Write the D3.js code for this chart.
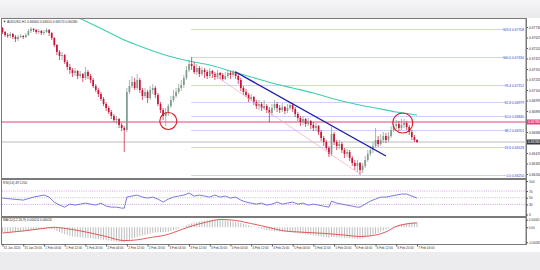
<!DOCTYPE html>
<html>
<head>
<meta charset="utf-8">
<script src="https://d3js.org/d3.v7.min.js"></script>
<style>
  body { margin: 0; background: #fff; }
  svg { display: block; font-family: "Liberation Sans", Arial, sans-serif; }
</style>
</head>
<body>
<svg id="chart" width="540" height="270"></svg>
<script>
// ---- data (H1 bars, 31 Jan 12:00 .. 7 Feb 04:00) ----
const symbolTitle = "AUDUSD,H1  0.66600 0.66610 0.66570 0.66580";
const firstOpen = 0.6772;
const closes = [
  0.6768,0.6765,0.6764,0.6766,0.6763,0.6761,0.6763,0.6764,0.6763,0.6765,
  0.6769,0.6771,0.6770,0.6768,0.6769,0.6767,0.6768,0.6770,0.6767,0.6762,
  0.6755,0.6748,0.6744,0.6745,0.6738,0.6733,0.6730,0.6727,0.6729,0.6724,
  0.6726,0.6722,0.6728,0.6724,0.6720,0.6714,0.6710,0.6706,0.6701,0.6696,
  0.6692,0.6688,0.6684,0.6680,0.6681,0.6675,0.6672,0.6670,0.6708,0.6714,
  0.6718,0.6712,0.6720,0.6710,0.6704,0.6708,0.6702,0.6710,0.6712,0.6705,
  0.6696,0.6690,0.6684,0.6688,0.6694,0.6700,0.6704,0.6708,0.6712,0.6715,
  0.6722,0.6730,0.6736,0.6734,0.6728,0.6732,0.6726,0.6730,0.6728,0.6724,
  0.6729,0.6726,0.6723,0.6727,0.6725,0.6721,0.6724,0.6727,0.6725,0.6728,
  0.6724,0.6720,0.6712,0.6708,0.6705,0.6701,0.6703,0.6698,0.6694,0.6696,
  0.6692,0.6694,0.6690,0.6687,0.6692,0.6696,0.6692,0.6690,0.6693,0.6689,
  0.6692,0.6695,0.6691,0.6686,0.6682,0.6678,0.6681,0.6676,0.6679,0.6675,
  0.6672,0.6674,0.6668,0.6662,0.6658,0.6652,0.6646,0.6666,0.6658,0.6654,
  0.6656,0.6650,0.6646,0.6648,0.6642,0.6637,0.6634,0.6637,0.6630,0.6634,
  0.6640,0.6646,0.6650,0.6654,0.6660,0.6656,0.6660,0.6664,0.6660,0.6664,
  0.6670,0.6674,0.6676,0.6672,0.6675,0.6677,0.6673,0.6668,0.6663,0.6660,
  0.6658
];
const highs = [
  0.6773,0.6769,0.6767,0.6768,0.6767,0.6765,0.6765,0.6766,0.6765,0.6767,
  0.6771,0.6773,0.6772,0.6771,0.6771,0.6770,0.6770,0.6772,0.6771,0.6768,
  0.6763,0.6756,0.6750,0.6748,0.6746,0.6740,0.6736,0.6732,0.6732,0.6730,
  0.6729,0.6727,0.6733,0.6730,0.6726,0.6722,0.6716,0.6712,0.6708,0.6703,
  0.6698,0.6694,0.6690,0.6686,0.6684,0.6682,0.6677,0.6674,0.6712,0.6720,
  0.6724,0.6722,0.6726,0.6722,0.6712,0.6712,0.6710,0.6714,0.6716,0.6714,
  0.6707,0.6698,0.6692,0.6692,0.6696,0.6704,0.6710,0.6712,0.6716,0.6720,
  0.6725,0.6734,0.6740,0.6743,0.6738,0.6736,0.6734,0.6733,0.6732,0.6730,
  0.6732,0.6730,0.6728,0.6730,0.6728,0.6727,0.6728,0.6730,0.6729,0.6730,
  0.6729,0.6726,0.6722,0.6714,0.6711,0.6707,0.6706,0.6704,0.6700,0.6700,
  0.6698,0.6700,0.6696,0.6693,0.6696,0.6700,0.6698,0.6695,0.6697,0.6694,
  0.6696,0.6698,0.6697,0.6693,0.6688,0.6684,0.6684,0.6682,0.6682,0.6680,
  0.6678,0.6677,0.6675,0.6670,0.6664,0.6660,0.6654,0.6673,0.6668,0.6660,
  0.6660,0.6658,0.6652,0.6651,0.6650,0.6644,0.6640,0.6640,0.6638,0.6637,
  0.6644,0.6650,0.6654,0.6658,0.6672,0.6664,0.6666,0.6668,0.6667,0.6668,
  0.6674,0.6678,0.6680,0.6679,0.6681,0.6681,0.6679,0.6675,0.6670,0.6665,
  0.6661
];
const lows = [
  0.6766,0.6763,0.6762,0.6762,0.6761,0.6758,0.6759,0.6762,0.6761,0.6762,
  0.6764,0.6767,0.6768,0.6766,0.6766,0.6765,0.6765,0.6767,0.6764,0.6760,
  0.6753,0.6745,0.6740,0.6740,0.6736,0.6730,0.6726,0.6723,0.6724,0.6721,
  0.6722,0.6718,0.6720,0.6721,0.6717,0.6712,0.6708,0.6703,0.6699,0.6694,
  0.6689,0.6686,0.6681,0.6678,0.6676,0.6672,0.6669,0.6648,0.6668,0.6706,
  0.6712,0.6710,0.6710,0.6707,0.6700,0.6702,0.6697,0.6700,0.6706,0.6702,
  0.6694,0.6687,0.6680,0.6674,0.6684,0.6692,0.6698,0.6702,0.6706,0.6709,
  0.6712,0.6720,0.6728,0.6730,0.6726,0.6725,0.6723,0.6724,0.6722,0.6721,
  0.6722,0.6722,0.6720,0.6721,0.6721,0.6719,0.6720,0.6722,0.6721,0.6723,
  0.6721,0.6716,0.6709,0.6705,0.6703,0.6698,0.6699,0.6695,0.6691,0.6690,
  0.6689,0.6690,0.6687,0.6678,0.6684,0.6690,0.6688,0.6687,0.6688,0.6686,
  0.6687,0.6690,0.6688,0.6683,0.6679,0.6674,0.6675,0.6673,0.6674,0.6671,
  0.6669,0.6669,0.6665,0.6659,0.6654,0.6650,0.6643,0.6644,0.6655,0.6650,
  0.6651,0.6647,0.6642,0.6643,0.6639,0.6634,0.6630,0.6628,0.6625,0.6627,
  0.6632,0.6638,0.6644,0.6647,0.6652,0.6653,0.6654,0.6657,0.6657,0.6658,
  0.6662,0.6668,0.6671,0.6669,0.6670,0.6672,0.6670,0.6665,0.6660,0.6658,
  0.6657
];

// moving average (teal), sampled at bars
const maBars = [24,32,40,48,56,64,72,80,88,96,104,112,120,128,136,144,152,160];
const maValues = [0.6789,0.6779,0.6769,0.6759,0.6751,0.6744,0.6739,0.6735,0.6729,
  0.6723,0.6717,0.6712,0.6707,0.6701,0.6696,0.6692,0.6688,0.6685];

// drawn objects
const fibHigh = { bar: 73, price: 0.6743 };
const fibLow = { bar: 138, price: 0.6625 };
const fibLevels = [0, 23.6, 38.2, 50, 61.8, 76.4, 100, 123.6];
const resistanceLevel = 0.6678;
const trendBars = [90, 148];
const trendValues = [0.6728, 0.6644];
const channelBars = [80, 138];
const channelValues = [0.6728, 0.6626];
const circleBars = [64, 154.5];
const circleValues = [0.6679, 0.6677];
const priceTicks = [0.67730,0.67625,0.67520,0.67415,0.67310,0.67205,0.67100,0.66995,
  0.66890,0.66785,0.66680,0.66575,0.66470,0.66365,0.66260];

// RSI(14), sampled at bars
const rsiBars = [0,4,8,12,16,18,20,22,24,26,28,30,32,34,36,38,40,42,44,46,
  47,48,50,52,54,56,58,60,62,64,66,68,70,72,74,76,78,80,82,84,
  86,88,90,92,94,96,98,100,102,104,106,108,110,112,114,116,118,120,122,124,
  126,127,129,131,133,135,137,138,140,142,144,146,148,150,152,154,156,158,160];
const rsiValues = [49,46,43,52,58,52,37,28,22,31,28,31,34,31,28,34,25,22,22,19,
  19,52,55,58,52,49,52,46,37,46,52,55,58,64,55,58,55,52,58,52,
  55,49,52,43,37,34,31,34,28,31,37,31,34,37,31,34,28,31,28,25,
  22,40,34,31,28,25,22,22,31,40,46,52,52,55,58,61,61,55,49];
const rsiTicks = [100, 70, 50, 30, 0];

// MACD histogram in points (1e-5), one per bar
const macdPts = [
  -28,-27,-26,-26,-25,-25,-24,-23,-22,-20,-18,-16,-14,-12,-10,-9,
  -8,-7,-8,-10,-14,-20,-26,-32,-37,-42,-46,-50,-52,-54,-55,-56,-56,-57,-58,-60,
  -62,-64,-66,-68,-70,-72,-74,-76,-77,-79,-80,-81,-74,-68,-62,-57,-52,-48,-45,-42,
  -38,-34,-30,-28,-27,-27,-28,-27,-24,-20,-16,-12,-7,-2,4,10,
  16,21,25,28,31,34,36,38,40,41,41,40,39,38,37,36,35,33,30,27,23,19,15,11,
  7,3,-1,-5,-9,-12,-15,-18,-20,-21,-22,-23,-24,-25,-26,-27,
  -28,-30,-32,-34,-36,-38,-40,-42,-44,-46,-48,-50,-52,-54,-56,-52,
  -53,-54,-55,-56,-57,-58,-59,-60,-61,-62,-62,-60,-56,-50,-44,-38,
  -36,-30,-24,-18,-12,-6,-1,4,8,12,16,19,22,24,25,25,24
];
const signalBars = [0,8,16,20,24,32,40,47,52,56,64,68,72,80,84,88,96,104,108,116,124,132,138,144,148,152,156,160];
const signalPts = [-31,-20,-6,0,-6,-25,-50,-72,-68,-58,-38,-18,2,32,42,40,20,-5,-18,-27,-33,-42,-50,-42,-25,5,18,24];
const macdTicks = [0.00041, 0, -0.00081];

const timeLabels = ["31 Jan 2020","31 Jan 20:00","1 Feb 04:00","1 Feb 12:00","1 Feb 20:00",
  "2 Feb 04:00","2 Feb 12:00","2 Feb 20:00","3 Feb 04:00","3 Feb 12:00","3 Feb 20:00",
  "4 Feb 04:00","4 Feb 12:00","4 Feb 20:00","5 Feb 04:00","5 Feb 12:00","5 Feb 20:00",
  "6 Feb 04:00","6 Feb 12:00","6 Feb 20:00","7 Feb 04:00"];

// ---- drawing ----
const svg = d3.select("#chart");
const W = 540, axisX = 526;
const FS = 3.3;
const main = { top: 18, bottom: 178 };
const rsiP = { top: 179, bottom: 216 };
const macdP = { top: 217, bottom: 244 };

const x = d3.scaleLinear().domain([0, 160]).range([2.5, 417]);
const y = d3.scaleLinear().domain([0.6625, 0.6743]).range([175, 57]);
const yR = d3.scaleLinear().domain([0, 100]).range([214.5, 181]);
const yM = d3.scaleLinear().domain([-0.00085, 0.0005]).range([243, 218]);

// background bands
const defs = svg.append("defs");
const g1 = defs.append("linearGradient").attr("id", "band").attr("x1", 0).attr("y1", 0).attr("x2", 0).attr("y2", 1);
g1.append("stop").attr("offset", 0).attr("stop-color", "#f6f6f8");
g1.append("stop").attr("offset", 1).attr("stop-color", "#e9e9ec");
svg.append("rect").attr("width", W).attr("height", 18).attr("fill", "url(#band)");
svg.append("rect").attr("y", 252).attr("width", W).attr("height", 18).attr("fill", "#ececee");

defs.append("clipPath").attr("id", "clipMain").append("rect")
  .attr("x", 2).attr("y", main.top + 1).attr("width", axisX - 2).attr("height", main.bottom - main.top - 1);

// panel frames
[main, rsiP, macdP].forEach((p) => {
  svg.append("rect").attr("x", 1.5).attr("y", p.top + 0.5)
    .attr("width", axisX - 1.5).attr("height", p.bottom - p.top)
    .attr("fill", "none").attr("stroke", "#7a7a7a").attr("stroke-width", 1);
});

const mainG = svg.append("g").attr("clip-path", "url(#clipMain)");

// fibonacci levels
const fibX0 = x(fibHigh.bar);
fibLevels.forEach((lv) => {
  const price = fibLow.price + (fibHigh.price - fibLow.price) * lv / 100;
  const yy = Math.round(y(price)) + 0.5;
  mainG.append("line").attr("x1", fibX0).attr("x2", 506).attr("y1", yy).attr("y2", yy)
    .attr("stroke", "#8a8ae6").attr("stroke-width", 0.8).attr("stroke-dasharray", "1,1");
  mainG.append("text").attr("x", 524).attr("y", yy + 1.2).attr("text-anchor", "end")
    .attr("font-size", FS).attr("fill", "#3a3ad0")
    .text(`${lv.toFixed(1)} ${price.toFixed(5)}`);
});

// resistance (pink) and bid (gray) lines
mainG.append("line").attr("x1", 2).attr("x2", axisX).attr("y1", y(resistanceLevel)).attr("y2", y(resistanceLevel))
  .attr("stroke", "#e8407a").attr("stroke-width", 1);
const bid = closes[closes.length - 1];
mainG.append("line").attr("x1", 2).attr("x2", axisX).attr("y1", y(bid)).attr("y2", y(bid))
  .attr("stroke", "#d2d2d2").attr("stroke-width", 1.6);

// moving average
mainG.append("path")
  .datum(maBars.map((b, i) => [b, maValues[i]]))
  .attr("d", d3.line().x((d) => x(d[0])).y((d) => y(d[1])).curve(d3.curveMonotoneX))
  .attr("fill", "none").attr("stroke", "#3fcfb0").attr("stroke-width", 1.1);

// candles
closes.forEach((c, i) => {
  const o = i === 0 ? firstOpen : closes[i - 1];
  const hi = Math.max(highs[i], o, c), lo = Math.min(lows[i], o, c);
  const up = c >= o;
  const col = up ? "#7f9c8c" : "#c8123a";
  mainG.append("line").attr("x1", x(i)).attr("x2", x(i)).attr("y1", y(hi)).attr("y2", y(lo))
    .attr("stroke", col).attr("stroke-width", 0.7);
  const yt = y(Math.max(o, c)), yb = y(Math.min(o, c));
  mainG.append("rect").attr("x", x(i) - 0.85).attr("width", 1.7)
    .attr("y", yt).attr("height", Math.max(0.7, yb - yt)).attr("fill", col);
});

// trend lines
mainG.append("line").attr("x1", x(channelBars[0])).attr("y1", y(channelValues[0]))
  .attr("x2", x(channelBars[1])).attr("y2", y(channelValues[1]))
  .attr("stroke", "#f2a8bc").attr("stroke-width", 0.7);
mainG.append("line").attr("x1", x(trendBars[0])).attr("y1", y(trendValues[0]))
  .attr("x2", x(trendBars[1])).attr("y2", y(trendValues[1]))
  .attr("stroke", "#1e1eaa").attr("stroke-width", 1.4);

// circles
[8.5, 10].forEach((r, k) => {
  mainG.append("circle").attr("cx", x(circleBars[k])).attr("cy", y(circleValues[k])).attr("r", r)
    .attr("fill", "none").attr("stroke", "#d41c24").attr("stroke-width", 1.1);
});

// title
svg.append("path").attr("d", "M3.5,20.8 L5.7,20.8 L4.6,22.5 Z").attr("fill", "#333");
svg.append("text").attr("x", 7).attr("y", 22.8).attr("font-size", FS).attr("fill", "#333").text(symbolTitle);

// price axis
const axisStyle = (g) => {
  g.select(".domain").remove();
  g.selectAll("line").attr("stroke", "#555");
  g.selectAll("text").attr("font-size", FS).attr("fill", "#333").attr("font-family", "Liberation Sans, Arial, sans-serif");
};
svg.append("g").attr("transform", `translate(${axisX},0)`)
  .call(d3.axisRight(y).tickValues(priceTicks).tickFormat(d3.format(".5f")).tickSize(2).tickPadding(1))
  .call(axisStyle);
svg.append("line").attr("x1", axisX + 0.5).attr("x2", axisX + 0.5).attr("y1", main.top).attr("y2", macdP.bottom + 1)
  .attr("stroke", "#7a7a7a");

// price tags
[[resistanceLevel, "#e8407a"], [bid, "#3a3a3a"]].forEach(([p, col]) => {
  svg.append("rect").attr("x", axisX + 1).attr("y", y(p) - 2.5).attr("width", 13).attr("height", 5).attr("fill", col);
  svg.append("text").attr("x", axisX + 2).attr("y", y(p) + 1.2).attr("font-size", FS).attr("fill", "#fff")
    .text(p.toFixed(5));
});

// RSI panel
svg.append("text").attr("x", 3).attr("y", 184).attr("font-size", FS).attr("fill", "#333").text("RSI(14) 49.1250");
[[70, "#c98ad6"], [50, "#b8b8b8"], [30, "#c98ad6"]].forEach(([v, col]) => {
  svg.append("line").attr("x1", 2).attr("x2", axisX).attr("y1", yR(v)).attr("y2", yR(v))
    .attr("stroke", col).attr("stroke-width", 0.8).attr("stroke-dasharray", "1,1.2");
});
svg.append("path")
  .datum(rsiBars.map((b, i) => [b, rsiValues[i]]))
  .attr("d", d3.line().x((d) => x(d[0])).y((d) => yR(d[1])))
  .attr("fill", "none").attr("stroke", "#6c6cd8").attr("stroke-width", 0.9);
svg.append("g").attr("transform", `translate(${axisX},0)`)
  .call(d3.axisRight(yR).tickValues(rsiTicks).tickSize(2).tickPadding(1))
  .call(axisStyle);

// MACD panel
svg.append("text").attr("x", 3).attr("y", 221).attr("font-size", FS).attr("fill", "#333")
  .text("MACD(12,26,9) 0.00024 0.00024");
macdPts.forEach((v, i) => {
  svg.append("line").attr("x1", x(i)).attr("x2", x(i)).attr("y1", yM(0)).attr("y2", yM(v * 1e-5))
    .attr("stroke", "#a0a0a0").attr("stroke-width", 0.7);
});
svg.append("path")
  .datum(signalBars.map((b, i) => [b, signalPts[i] * 1e-5]))
  .attr("d", d3.line().x((d) => x(d[0])).y((d) => yM(d[1])).curve(d3.curveMonotoneX))
  .attr("fill", "none").attr("stroke", "#e24848").attr("stroke-width", 0.9);
svg.append("g").attr("transform", `translate(${axisX},0)`)
  .call(d3.axisRight(yM).tickValues(macdTicks).tickSize(2).tickPadding(0.8)
    .tickFormat((d) => (d === 0 ? "0.00" : d.toFixed(5))))
  .call(axisStyle)
  .call((g) => g.selectAll("text").attr("font-size", 3.0));

// time axis
svg.append("g").attr("transform", `translate(0,${macdP.bottom + 0.5})`)
  .call(d3.axisBottom(x).tickValues(d3.range(0, 161, 8)).tickSize(2).tickPadding(1)
    .tickFormat((d, i) => timeLabels[i]))
  .call(axisStyle)
  .call((g) => g.selectAll("text").attr("font-size", 3.0).attr("text-anchor", "start").attr("dx", 0.8).attr("dy", "0.5em"));
</script>
</body>
</html>
